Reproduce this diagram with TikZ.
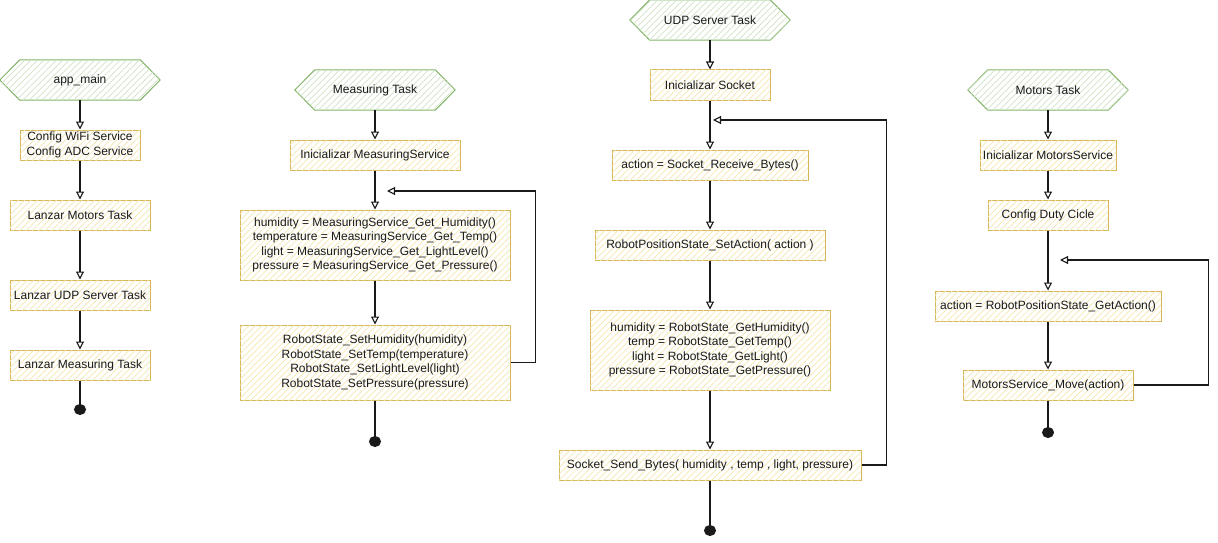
\documentclass[tikz,border=0pt]{standalone}
\usepackage{fontspec}
\setmainfont{Liberation Sans}
\usetikzlibrary{arrows.meta,patterns.meta,backgrounds}
\definecolor{boxline}{HTML}{D6B656}
\definecolor{boxhatch}{HTML}{F6E7B0}
\definecolor{hexline}{HTML}{82B366}
\definecolor{hexhatch}{HTML}{CFE4C7}
\definecolor{ink}{HTML}{1A1A1A}

\begin{document}
\begin{tikzpicture}[x=1pt,y=-1pt,
  every node/.style={font=\fontsize{12}{14.5}\selectfont, text=ink},
  stepbox/.style={draw=boxline, line width=1pt, fill=white,
    postaction={pattern={Lines[angle=45,distance=4.5pt,line width=0.7pt]}, pattern color=boxhatch},
    align=center, inner sep=0pt},
  hexlabel/.style={minimum width=160pt, minimum height=40pt, inner sep=0pt},
  hexa/.style={draw=hexline, line width=1pt, fill=white, line join=round,
    postaction={pattern={Lines[angle=45,distance=4.5pt,line width=0.7pt]}, pattern color=hexhatch}},
  flow/.style={draw=ink, line width=1.2pt,
    -{Triangle[open,length=8pt,width=8pt,line width=1.1pt,fill=white]}},
  stopline/.style={draw=ink, line width=1.2pt, -{Circle[length=11pt,width=12pt]}}]

\useasboundingbox (0,0) rectangle (1218,543);

% ---------- app_main ----------
\node[hexlabel] (appmain) at (80,80) {app\_main};
\node[stepbox, minimum width=120pt, minimum height=30pt] (cfg) at (80,145) {Config WiFi Service\\Config ADC Service};
\node[stepbox, minimum width=140pt, minimum height=30pt] (lmot) at (80,215) {Lanzar Motors Task};
\node[stepbox, minimum width=140pt, minimum height=30pt] (ludp) at (80,295) {Lanzar UDP Server Task};
\node[stepbox, minimum width=140pt, minimum height=30pt] (lmeas) at (80,365) {Lanzar Measuring Task};
\coordinate (end1) at (80,415);

\draw[flow] (appmain.south) -- (cfg.north);
\draw[flow] (cfg.south) -- (lmot.north);
\draw[flow] (lmot.south) -- (ludp.north);
\draw[flow] (ludp.south) -- (lmeas.north);
\draw[stopline] (lmeas.south) -- (end1);

% ---------- Measuring Task ----------
\node[hexlabel] (meastask) at (375,90) {Measuring Task};
\node[stepbox, minimum width=170pt, minimum height=30pt] (minit) at (375,155) {Inicializar MeasuringService};
\node[stepbox, minimum width=270pt, minimum height=70pt] (mget) at (375,245)
  {humidity = MeasuringService\_Get\_Humidity()\\temperature = MeasuringService\_Get\_Temp()\\light = MeasuringService\_Get\_LightLevel()\\pressure = MeasuringService\_Get\_Pressure()};
\node[stepbox, minimum width=270pt, minimum height=75pt] (mset) at (375,362.5)
  {RobotState\_SetHumidity(humidity)\\RobotState\_SetTemp(temperature)\\RobotState\_SetLightLevel(light)\\RobotState\_SetPressure(pressure)};
\coordinate (end2) at (375,447);
\coordinate (mloop) at (387,191);

\draw[flow] (meastask.south) -- (minit.north);
\draw[flow] (minit.south) -- (mget.north);
\draw[flow] (mget.south) -- (mset.north);
\draw[flow] (mset.east) -- ++(25,0) |- (mloop);
\draw[stopline] (mset.south) -- (end2);

% ---------- UDP Server Task ----------
\node[hexlabel] (udptask) at (710,20) {UDP Server Task};
\node[stepbox, minimum width=120pt, minimum height=30pt] (sinit) at (710,85) {Inicializar Socket};
\node[stepbox, minimum width=196pt, minimum height=30pt] (srecv) at (710,165) {action = Socket\_Receive\_Bytes()};
\node[stepbox, minimum width=230pt, minimum height=30pt] (sact) at (710,245) {RobotPositionState\_SetAction( action )};
\node[stepbox, minimum width=240pt, minimum height=80pt] (sget) at (710,350)
  {humidity = RobotState\_GetHumidity()\\temp = RobotState\_GetTemp()\\light = RobotState\_GetLight()\\pressure = RobotState\_GetPressure()};
\node[stepbox, minimum width=302pt, minimum height=30pt] (ssend) at (710,465) {Socket\_Send\_Bytes( humidity , temp , light, pressure)};
\coordinate (end3) at (710,536);
\coordinate (uloop) at (713,120);

\draw[flow] (udptask.south) -- (sinit.north);
\draw[flow] (sinit.south) -- (srecv.north);
\draw[flow] (srecv.south) -- (sact.north);
\draw[flow] (sact.south) -- (sget.north);
\draw[flow] (sget.south) -- (ssend.north);
\draw[flow] (ssend.east) -- ++(25,0) |- (uloop);
\draw[stopline] (ssend.south) -- (end3);

% ---------- Motors Task ----------
\node[hexlabel] (mottask) at (1048,90) {Motors Task};
\node[stepbox, minimum width=136pt, minimum height=30pt] (motinit) at (1048,155) {Inicializar MotorsService};
\node[stepbox, minimum width=120pt, minimum height=30pt] (duty) at (1048,215) {Config Duty Cicle};
\node[stepbox, minimum width=226pt, minimum height=30pt] (getact) at (1048,306) {action = RobotPositionState\_GetAction()};
\node[stepbox, minimum width=170pt, minimum height=30pt] (move) at (1048,385) {MotorsService\_Move(action)};
\coordinate (end4) at (1048,438);
\coordinate (motloop) at (1060,260);

\draw[flow] (mottask.south) -- (motinit.north);
\draw[flow] (motinit.south) -- (duty.north);
\draw[flow] (duty.south) -- (getact.north);
\draw[flow] (getact.south) -- (move.north);
\draw[flow] (move.east) -- ++(75,0) |- (motloop);
\draw[stopline] (move.south) -- (end4);

% ---------- task start hexagons ----------
\begin{scope}[on background layer]
\foreach \h in {appmain,meastask,udptask,mottask}
  \draw[hexa] (\h.west) -- ([xshift=20pt]\h.north west) -- ([xshift=-20pt]\h.north east)
    -- (\h.east) -- ([xshift=-20pt]\h.south east) -- ([xshift=20pt]\h.south west) -- cycle;
\end{scope}
\end{tikzpicture}
\end{document}
